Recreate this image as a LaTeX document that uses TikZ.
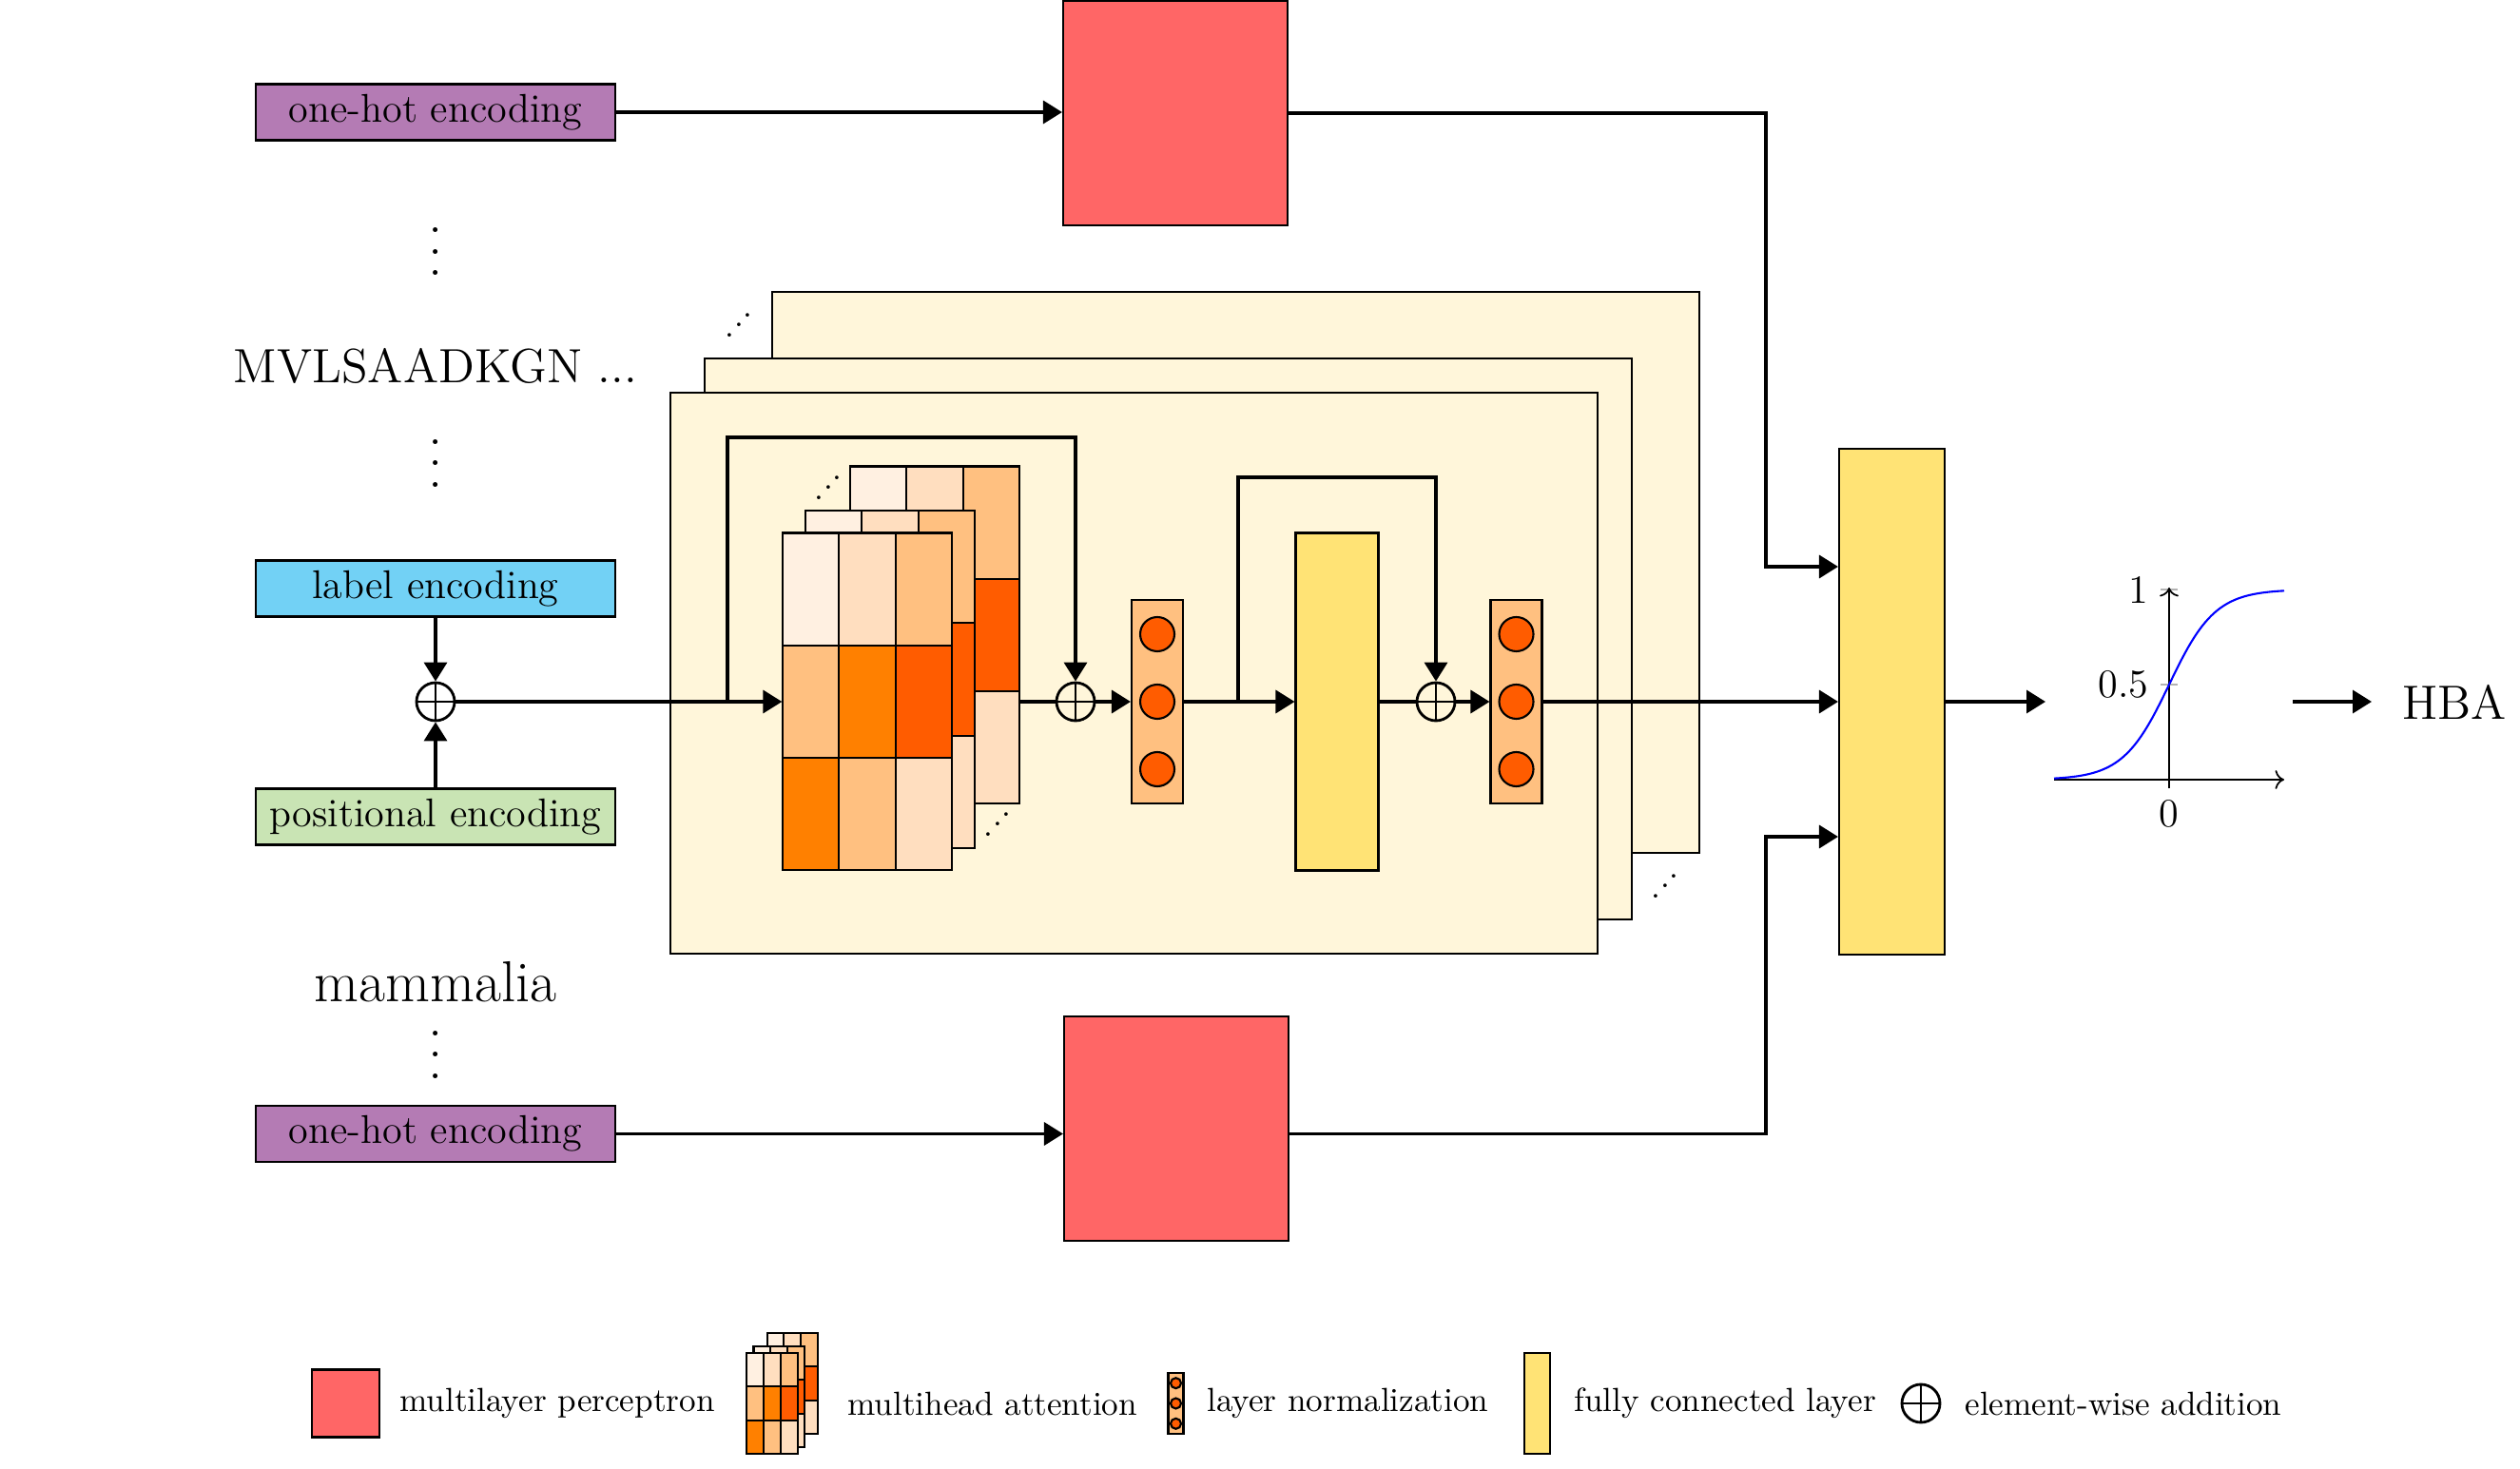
\documentclass[tikz,border=0pt]{standalone}
\usepackage{tikz}
\usetikzlibrary{arrows.meta, positioning, calc}
\definecolor{ohpurple}{HTML}{B47BB4}
\definecolor{mlpred}{HTML}{FF6666}
\definecolor{lblblue}{HTML}{72D1F5}
\definecolor{posgreen}{HTML}{C9E4B4}
\definecolor{stackbg}{HTML}{FFF6DA}
\definecolor{fcyellow}{HTML}{FFE375}
\definecolor{hmA}{HTML}{FFF0E1}
\definecolor{hmB}{HTML}{FFDEBF}
\definecolor{hmC}{HTML}{FFC080}
\definecolor{hmD}{HTML}{FF8000}
\definecolor{hmE}{HTML}{FF5C00}

% dots without extra space above them
\newcommand{\colondots}{\vbox{\baselineskip=6.4pt\lineskiplimit=0pt\hbox{.}\hbox{.}\hbox{.}}}
\newcommand{\risedots}{\mbox{.\raisebox{3pt}{.}\raisebox{6pt}{.}}}

\tikzset{
    heads/.pic={
        % back, middle and front head, 3x3 weights each
        \foreach \ox/\oy in {0.71/0.70, 0.24/0.235, 0/0}
            \foreach \cx/\ry/\cl in {0/0/hmA, 1/0/hmB, 2/0/hmC, 0/1/hmC, 1/1/hmD, 2/1/hmE, 0/2/hmD, 1/2/hmC, 2/2/hmB}
                \draw[semithick, fill=\cl] ({\ox-0.89+\cx*0.593}, {\oy+1.775-\ry*1.183}) rectangle ++(0.593,-1.183);
    }
}

\begin{document}
\begin{tikzpicture}[
    every node/.style={font=\large},
    enc/.style={draw, semithick, minimum width=3.78cm, minimum height=0.59cm, inner sep=0pt},
    mlp/.style={draw, semithick, fill=mlpred, minimum width=2.36cm, minimum height=2.36cm, inner sep=0pt},
    stack/.style={draw, fill=stackbg, minimum width=9.75cm, minimum height=5.9cm, inner sep=0pt},
    lnorm/.style={draw, semithick, fill=hmC, minimum width=0.54cm, minimum height=2.14cm, inner sep=0pt},
    lncirc/.style={draw, semithick, circle, fill=hmE, minimum size=0.36cm, inner sep=0pt},
    fc/.style={draw, semithick, fill=fcyellow, inner sep=0pt},
    addop/.style={draw, thick, circle, minimum size=0.4cm, inner sep=0pt,
        path picture={\draw[thick] (path picture bounding box.north) -- (path picture bounding box.south)
            (path picture bounding box.west) -- (path picture bounding box.east);}},
    vdts/.style={font=\LARGE, inner sep=0pt},
    dots/.style={font=\normalsize, inner sep=0pt},
    legend/.style={font=\normalsize, anchor=west},
    arrow/.style={-{Triangle[length=2mm, width=2.4mm]}, line width=1pt},
    line/.style={line width=1pt},
    sigaxis/.style={-{To}, line width=0.5pt}
]
    \useasboundingbox (0,0) rectangle (26.5,15.44);

    % Inputs
    \node[enc, fill=ohpurple] (oh1) at (4.58,14.26) {one-hot encoding};
    \node[vdts] (vd1) at (4.58,12.79) {\colondots};
    \node[font=\Large] (seq) at (4.58,11.595) {MVLSAADKGN ...};
    \node[vdts] (vd2) at (4.58,10.565) {\colondots};
    \node[enc, fill=lblblue] (lab) at (4.58,9.25) {label encoding};
    \node[addop] (addin) at (4.58,8.06) {};
    \node[enc, fill=posgreen, below=0.69cm of addin] (pos) {positional encoding};
    \node[font=\LARGE] (taxon) at (4.58,5.11) {mammalia};
    \node[vdts] (vd3) at (4.58,4.345) {\colondots};
    \node[enc, fill=ohpurple] (oh2) at (4.58,3.515) {one-hot encoding};

    % MLPs
    \node[mlp] (mlp1) at (12.36,14.25) {};
    \node[mlp] (mlp2) at (12.37,3.57) {};

    % Encoder stack
    \node[stack] (blk3) at (12.995,9.42) {};
    \node[stack] (blk2) at (12.285,8.72) {};
    \node[stack] (blk1) at (11.925,8.36) {};
    \node[dots] (dd1) at (7.77,12.02) {\risedots};
    \node[dots] (dd2) at (17.51,6.12) {\risedots};

    % Multihead attention
    \pic at (9.12,8.06) {heads};
    \node[minimum width=1.779cm, minimum height=3.549cm, inner sep=0pt] (attn) at (9.12,8.06) {};
    \node[minimum width=1.779cm, minimum height=3.549cm, inner sep=0pt] (attnb) at (9.83,8.76) {};
    \node[dots] (dd3) at (8.71,10.31) {\risedots};
    \node[dots] (dd4) at (10.49,6.77) {\risedots};

    % Add & norm, feed forward
    \node[addop] (add1) at (11.31,8.06) {};
    \node[lnorm] (ln1) at (12.17,8.06) {};
    \node[fc, minimum width=0.87cm, minimum height=3.55cm] (fc1) at (14.06,8.06) {};
    \node[addop] (add2) at (15.10,8.06) {};
    \node[lnorm] (ln2) at (15.945,8.06) {};
    \foreach \n in {ln1, ln2}
        \foreach \dy [count=\i] in {-0.71, 0, 0.71}
            \node[lncirc] (\n-\i) at ($(\n)+(0,\dy)$) {};

    % Output
    \node[fc, minimum width=1.11cm, minimum height=5.32cm] (bigfc) at (19.895,8.06) {};
    \coordinate (sigin) at (21.51,8.06);
    \coordinate (sig0) at (22.81,7.24);
    \draw[gray!60] ([xshift=-0.09cm]sig0) ++(0,2) -- ++(0.18,0);
    \draw[gray!60] ([xshift=-0.09cm]sig0) ++(0,1) -- ++(0.18,0);
    \draw[gray!60] ([yshift=-0.09cm]sig0) -- ++(0,0.17);
    \draw[sigaxis] ([xshift=-1.21cm]sig0) -- ([xshift=1.21cm]sig0);
    \draw[sigaxis] ([yshift=-0.09cm]sig0) -- ([yshift=2.02cm]sig0);
    \draw[blue, semithick, domain=-5:5, samples=80] plot ({22.81+0.242*\x}, {7.24+2/(1+exp(-\x))});
    \node[anchor=east] (t1) at (22.72,9.24) {1};
    \node[anchor=east] (t05) at (22.72,8.24) {0.5};
    \node[anchor=north] (t0) at (22.81,7.15) {0};
    \coordinate (sigout) at (24.11,8.06);
    \node[font=\Large, anchor=west] (hba) at (25.14,8.06) {HBA};

    % Arrows
    \draw[arrow] (oh1.east) -- (oh1.east -| mlp1.west);
    \draw[arrow] (oh2.east) -- (oh2.east -| mlp2.west);
    \draw[arrow] (lab) -- (addin);
    \draw[arrow] (pos) -- (addin);
    \draw[arrow] (addin.east) -- (addin.east -| attn.west);
    \draw[line] (attnb.east |- attn) -- (add1);
    \coordinate (sk1) at (7.65,8.06);
    \draw[arrow] (sk1) |- ($(add1)+(0,2.78)$) -- (add1);
    \draw[arrow] (add1) -- (ln1);
    \draw[arrow] (ln1) -- (fc1);
    \draw[line] (fc1) -- (add2);
    \coordinate (sk2) at (13.02,8.06);
    \draw[arrow] (sk2) |- ($(add2)+(0,2.36)$) -- (add2);
    \draw[arrow] (add2) -- (ln2);
    \draw[arrow] (ln2) -- (bigfc);
    \coordinate (j1) at (18.57,9.48);
    \coordinate (j2) at (18.57,6.64);
    \draw[arrow] (mlp1.east) -| (j1) -- (j1 -| bigfc.west);
    \draw[arrow] (mlp2.east |- oh2) -| (j2) -- (j2 -| bigfc.west);
    \draw[arrow] (bigfc) -- (sigin);
    \draw[arrow] (sigout) -- ([xshift=-0.2cm]hba.west);

    % Legend
    \node[mlp, minimum width=0.71cm, minimum height=0.71cm] (lgmlp) at (3.635,0.68) {};
    \node[legend] (lgmlpt) at (4.08,0.68) {multilayer perceptron};
    \pic[scale=0.3] at (8.12,0.68) {heads};
    \node[legend] (lgattt) at (8.79,0.68) {multihead attention};
    \node[lnorm, minimum width=0.16cm, minimum height=0.64cm] (lgln) at (12.365,0.68) {};
    \foreach \dy [count=\i] in {-0.213, 0, 0.213}
        \node[lncirc, minimum size=0.11cm] (lgln-\i) at ($(lgln)+(0,\dy)$) {};
    \node[legend] (lglnt) at (12.57,0.68) {layer normalization};
    \node[fc, minimum width=0.27cm, minimum height=1.06cm] (lgfc) at (16.165,0.68) {};
    \node[legend] (lgfct) at (16.43,0.68) {fully connected layer};
    \node[addop] (lgadd) at (20.20,0.68) {};
    \node[legend] (lgaddt) at (20.54,0.68) {element-wise addition};
\end{tikzpicture}
\end{document}
